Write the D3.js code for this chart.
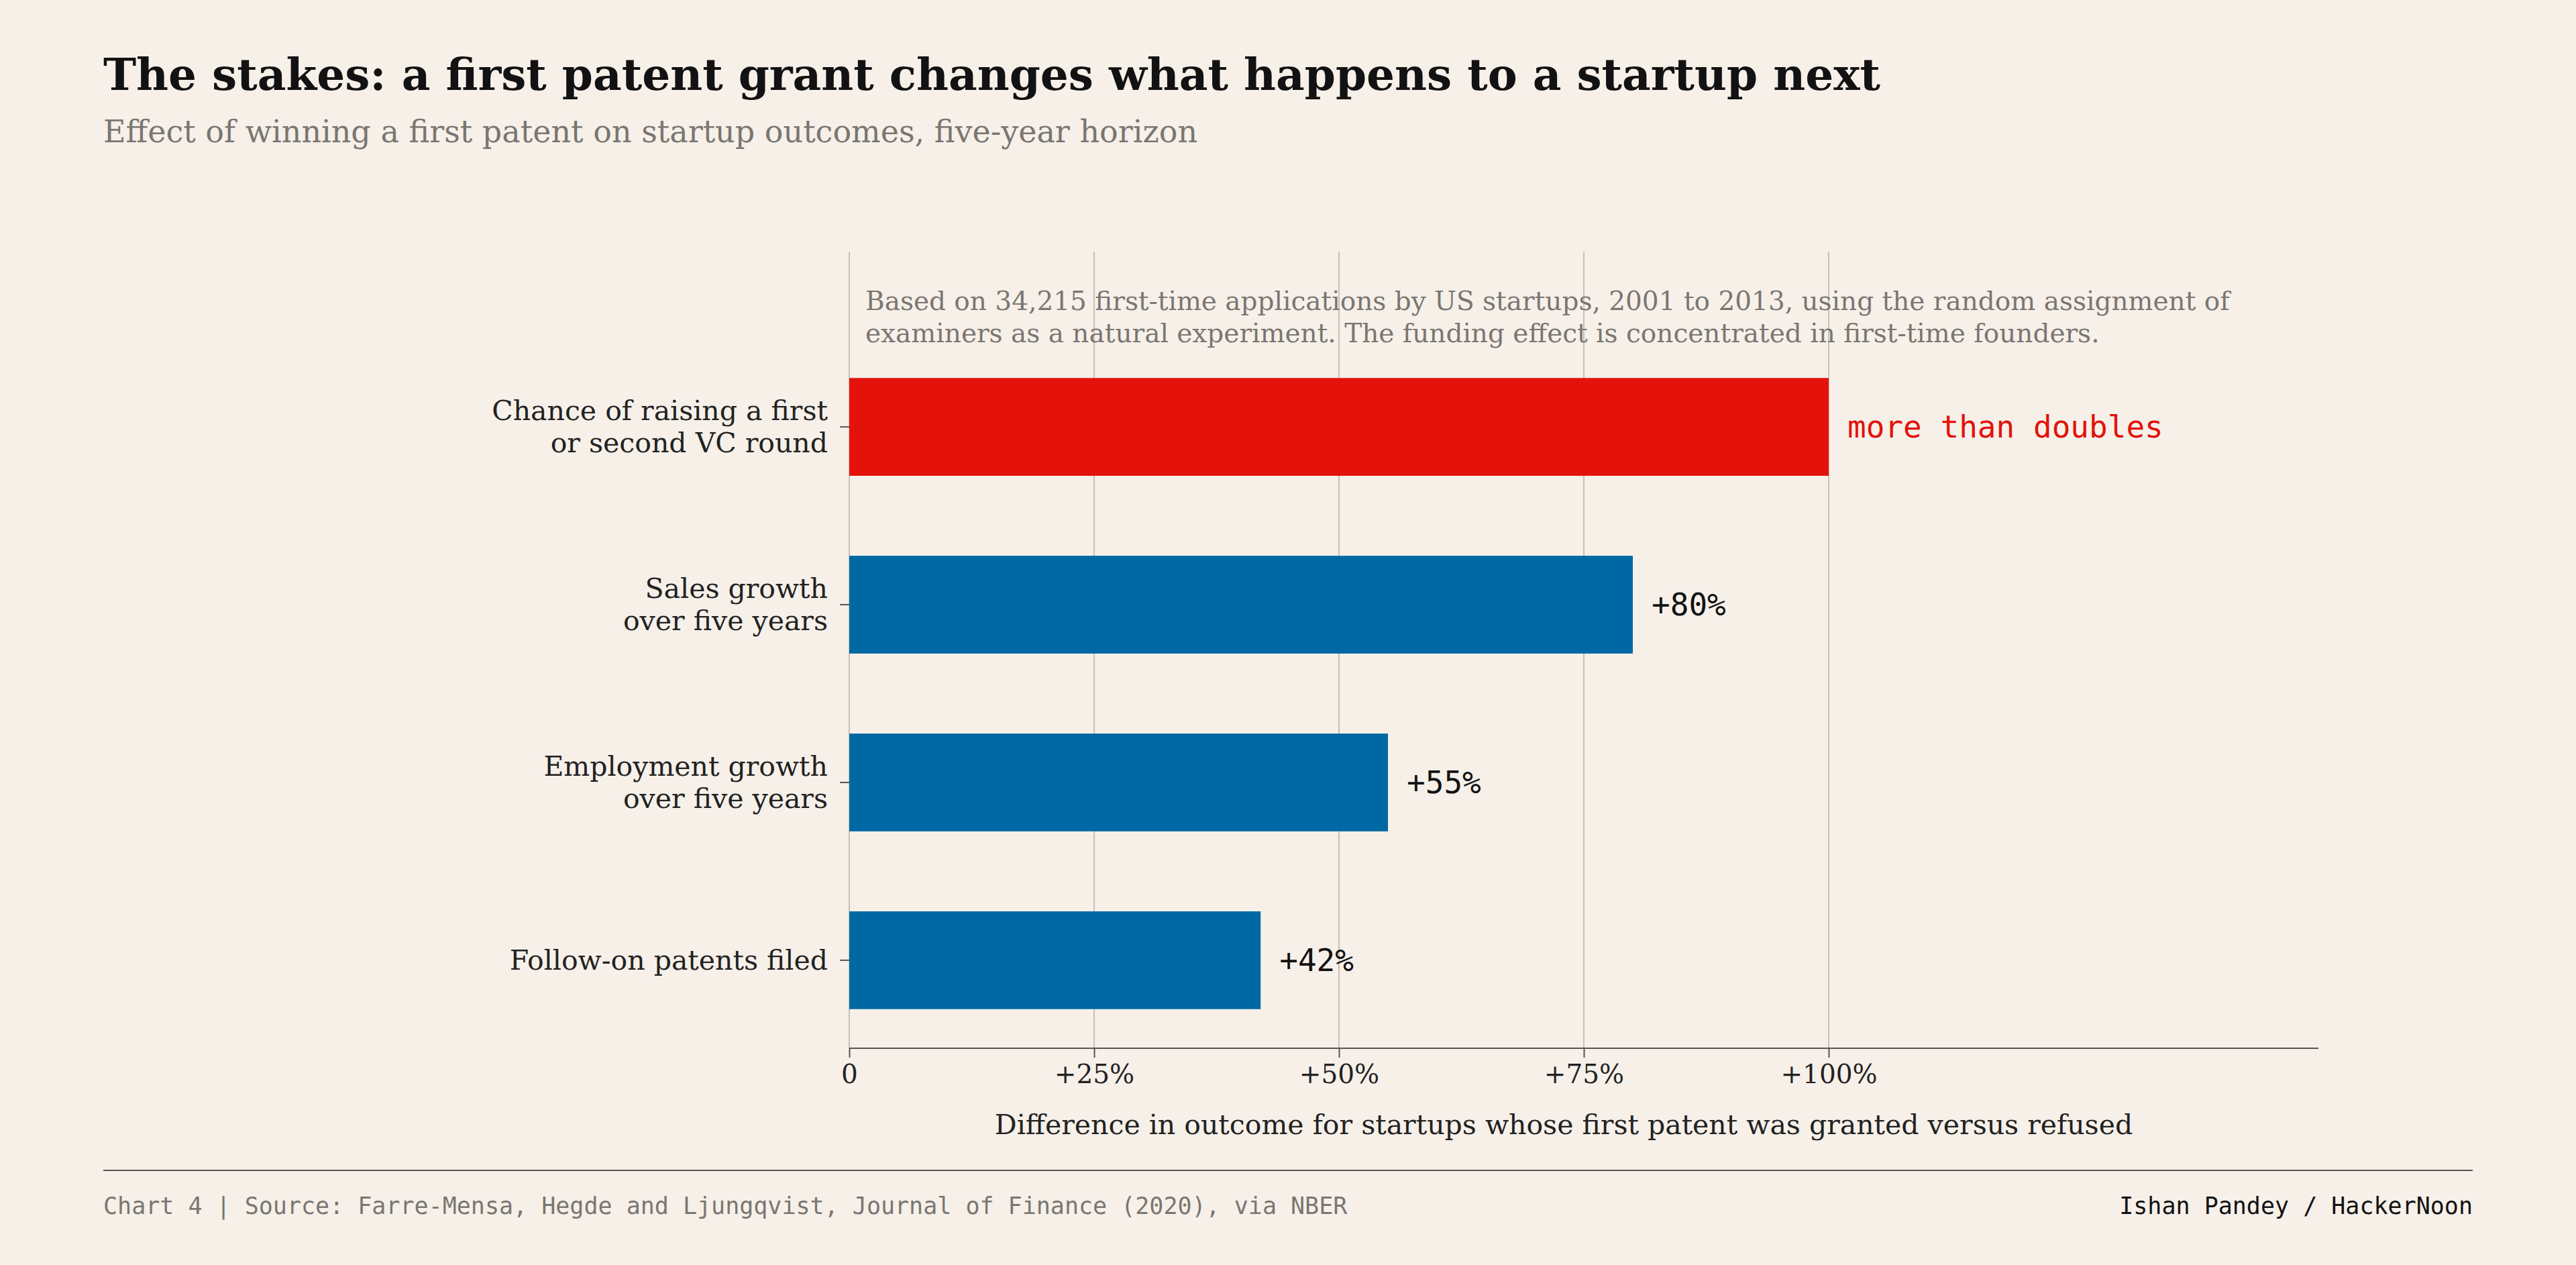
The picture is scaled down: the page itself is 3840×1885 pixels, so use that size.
<!DOCTYPE html>
<html>
<head>
<meta charset="utf-8">
<script src="https://cdn.jsdelivr.net/npm/d3@7"></script>
<style>
  body { margin: 0; background: #f6f0e9; }
  svg { display: block; }
</style>
</head>
<body>
<svg id="chart"></svg>
<script>
const categories = [
  ['Chance of raising a first', 'or second VC round'],
  ['Sales growth', 'over five years'],
  ['Employment growth', 'over five years'],
  ['Follow-on patents filed']
];
const values = [100, 80, 55, 42];
const valueLabels = ['more than doubles', '+80%', '+55%', '+42%'];
const highlight = [true, false, false, false];
const tickValues = [0, 25, 50, 75, 100];
const tickLabels = ['0', '+25%', '+50%', '+75%', '+100%'];

const W = 3840, H = 1885;
const serif = '"DejaVu Serif", serif';
const mono = '"DejaVu Sans Mono", monospace';
const svg = d3.select('#chart').attr('width', W).attr('height', H);
svg.append('rect').attr('width', W).attr('height', H).attr('fill', '#f6f0e9');

const margin = { left: 1266, right: 384, top: 375, bottom: 323 };
const x = d3.scaleLinear().domain([0, 150]).range([margin.left, W - margin.right]);
const y = d3.scaleBand().domain(d3.range(categories.length))
  .range([505, 1562]).paddingInner(0.45).paddingOuter(0.22);

// title block
svg.append('text').attr('x', 154).attr('y', 134).attr('font-family', serif)
  .attr('font-weight', 'bold').attr('font-size', 66).attr('fill', '#121212')
  .text('The stakes: a first patent grant changes what happens to a startup next');
svg.append('text').attr('x', 154).attr('y', 212).attr('font-family', serif)
  .attr('font-size', 46).attr('fill', '#7a7670')
  .text('Effect of winning a first patent on startup outcomes, five-year horizon');

// gridlines
svg.append('g').selectAll('line').data(tickValues).join('line')
  .attr('x1', d => x(d)).attr('x2', d => x(d))
  .attr('y1', margin.top).attr('y2', 1562)
  .attr('stroke', '#c6c0b8').attr('stroke-width', 2);

// annotation
const note = svg.append('text').attr('font-family', serif).attr('font-size', 39).attr('fill', '#7a7670');
['Based on 34,215 first-time applications by US startups, 2001 to 2013, using the random assignment of',
 'examiners as a natural experiment. The funding effect is concentrated in first-time founders.']
  .forEach((t, i) => note.append('tspan').attr('x', x(0) + 24).attr('y', 462 + i * 48).text(t));

// bars
svg.append('g').selectAll('rect').data(values).join('rect')
  .attr('x', x(0)).attr('y', (d, i) => y(i))
  .attr('width', d => x(d) - x(0)).attr('height', y.bandwidth())
  .attr('fill', (d, i) => highlight[i] ? '#e3120b' : '#0069a3');

// value labels
svg.append('g').selectAll('text').data(values).join('text')
  .attr('x', d => x(d) + 28).attr('y', (d, i) => y(i) + y.bandwidth() / 2)
  .attr('dy', '0.35em').attr('font-family', mono).attr('font-size', 46)
  .attr('fill', (d, i) => highlight[i] ? '#e3120b' : '#121212')
  .text((d, i) => valueLabels[i]);

// category labels + ticks
const cat = svg.append('g');
categories.forEach((lines, i) => {
  const cy = y(i) + y.bandwidth() / 2;
  cat.append('line').attr('x1', x(0) - 14).attr('x2', x(0)).attr('y1', cy).attr('y2', cy)
    .attr('stroke', '#555').attr('stroke-width', 2);
  const t = cat.append('text').attr('text-anchor', 'end').attr('font-family', serif)
    .attr('font-size', 41).attr('fill', '#222');
  lines.forEach((l, j) => t.append('tspan').attr('x', x(0) - 32)
    .attr('y', cy + 14 + (j - (lines.length - 1) / 2) * 48).text(l));
});

// x axis
const axis = d3.axisBottom(x).tickValues(tickValues).tickFormat((d, i) => tickLabels[i])
  .tickSize(14).tickPadding(10);
const gx = svg.append('g').attr('transform', 'translate(0,1562)').call(axis);
gx.select('.domain').attr('stroke', '#555').attr('stroke-width', 2).attr('d', `M${x(0)},0H${x(150)}`);
gx.selectAll('.tick line').attr('stroke', '#555').attr('stroke-width', 2);
gx.selectAll('.tick text').attr('font-family', serif).attr('font-size', 39).attr('fill', '#222');
svg.append('text').attr('x', (x(0) + x(150)) / 2 - 30).attr('y', 1690).attr('text-anchor', 'middle')
  .attr('font-family', serif).attr('font-size', 41).attr('fill', '#222')
  .text('Difference in outcome for startups whose first patent was granted versus refused');

// footer
svg.append('line').attr('x1', 154).attr('x2', 3686).attr('y1', 1744).attr('y2', 1744)
  .attr('stroke', '#555').attr('stroke-width', 2);
svg.append('text').attr('x', 154).attr('y', 1809).attr('font-family', mono).attr('font-size', 35)
  .attr('fill', '#7a7670')
  .text('Chart 4  |  Source: Farre-Mensa, Hegde and Ljungqvist, Journal of Finance (2020), via NBER');
svg.append('text').attr('x', 3686).attr('y', 1809).attr('text-anchor', 'end').attr('font-family', mono)
  .attr('font-size', 35).attr('fill', '#121212').text('Ishan Pandey / HackerNoon');
</script>
</body>
</html>
